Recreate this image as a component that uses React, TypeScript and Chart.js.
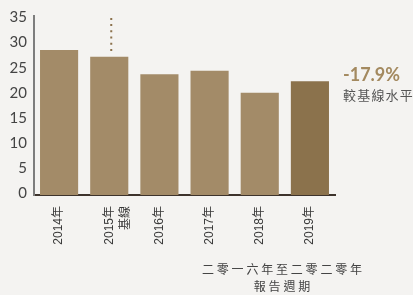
import React, { useEffect, useRef } from 'react';
import { Chart, registerables } from 'chart.js';

Chart.register(...registerables);

const categories: string[][] = [['2014年'], ['2015年', '基線'], ['2016年'], ['2017年'], ['2018年'], ['2019年']];
const values: number[] = [28.8, 27.5, 24.0, 24.7, 20.3, 22.6];
const yTicks: number[] = [0, 5, 10, 15, 20, 25, 30, 35];
const yMax = 35.58;
const baselineIndex = 1;
const dottedTop = 35.2;
const changeLabel = '-17.9%';
const changeCaption = '較基線水平';
const periodLine1 = '二零一六年至二零二零年';
const periodLine2 = '報告週期';

const BAR = '#a38b68';
const BAR_DARK = '#8b724c';
const FONT = "Lato, 'Liberation Sans', 'Noto Sans CJK TC', sans-serif";
const XFONT = "'Liberation Sans', 'Noto Sans CJK TC', sans-serif";
const CJK = "'Noto Sans CJK TC', sans-serif";

const dottedPlugin = {
  id: 'dottedBaseline',
  afterDatasetsDraw(chart: any) {
    const meta = chart.getDatasetMeta(0);
    const bar = meta.data[baselineIndex];
    if (!bar) return;
    const ys = chart.scales.y;
    const ctx = chart.ctx;
    ctx.save();
    ctx.strokeStyle = '#8b724c';
    ctx.lineWidth = 2;
    ctx.setLineDash([2, 4.2]);
    ctx.beginPath();
    const x = bar.x + 2;
    ctx.moveTo(x, ys.getPixelForValue(dottedTop));
    ctx.lineTo(x, bar.y - 2);
    ctx.stroke();
    ctx.restore();
  },
};

export default function App() {
  const ref = useRef<HTMLCanvasElement>(null);
  useEffect(() => {
    document.body.style.margin = '0';
    document.body.style.background = '#f4f3f1';
    const chart = new Chart(ref.current as HTMLCanvasElement, {
      type: 'bar',
      data: {
        labels: categories as any,
        datasets: [
          {
            data: values,
            backgroundColor: values.map((_, i) => (i === values.length - 1 ? BAR_DARK : BAR)),
            borderWidth: 0,
            barPercentage: 0.76,
            categoryPercentage: 1,
          },
        ],
      },
      options: {
        responsive: false,
        maintainAspectRatio: false,
        animation: false,
        layout: { padding: { top: 11, right: 78, left: 0, bottom: 0 } },
        plugins: { legend: { display: false }, tooltip: { enabled: false } },
        scales: {
          x: {
            grid: { display: false, drawTicks: false },
            border: { display: true, color: '#3d332c', width: 2 },
            ticks: {
              minRotation: 90,
              maxRotation: 90,
              autoSkip: false,
              padding: 11,
              color: '#3a3a3a',
              font: { size: 12, family: XFONT, lineHeight: 1.4 },
            },
            afterFit: (s: any) => {
              s.height = 100;
            },
          },
          y: {
            min: 0,
            max: yMax,
            afterBuildTicks: (s: any) => {
              s.ticks = yTicks.map((v) => ({ value: v }));
            },
            grid: { display: false, drawTicks: false },
            border: { display: true, color: '#7d7d7d', width: 2 },
            ticks: {
              padding: 7,
              color: '#444',
              labelOffset: -1.5,
              font: { size: 15, family: FONT },
            },
            afterFit: (s: any) => {
              s.width = 34;
            },
          },
        },
      },
      plugins: [dottedPlugin],
    });
    return () => chart.destroy();
  }, []);

  return (
    <div style={{ position: 'absolute', left: 0, top: 0, width: 413, height: 295, background: '#f4f3f1', overflow: 'hidden' }}>
      <canvas ref={ref} width={413} height={295} style={{ display: 'block', width: 413, height: 295 }} />
      <div style={{ position: 'absolute', left: 343, top: 63, fontFamily: FONT, fontWeight: 700, fontSize: 18, color: '#a3895f', lineHeight: '22px', whiteSpace: 'nowrap' }}>
        {changeLabel}
      </div>
      <div style={{ position: 'absolute', left: 343, top: 86, fontFamily: CJK, fontSize: 13, color: '#555', letterSpacing: '1.2px', lineHeight: '18px', whiteSpace: 'nowrap' }}>
        {changeCaption}
      </div>
      <div style={{ position: 'absolute', left: 182, width: 200, top: 260, textAlign: 'center', fontFamily: CJK, fontSize: 12, color: '#444', letterSpacing: '2.8px', lineHeight: '17px', whiteSpace: 'nowrap' }}>
        <div style={{ paddingLeft: '2.8px' }}>{periodLine1}</div>
        <div style={{ paddingLeft: '2.8px' }}>{periodLine2}</div>
      </div>
    </div>
  );
}
